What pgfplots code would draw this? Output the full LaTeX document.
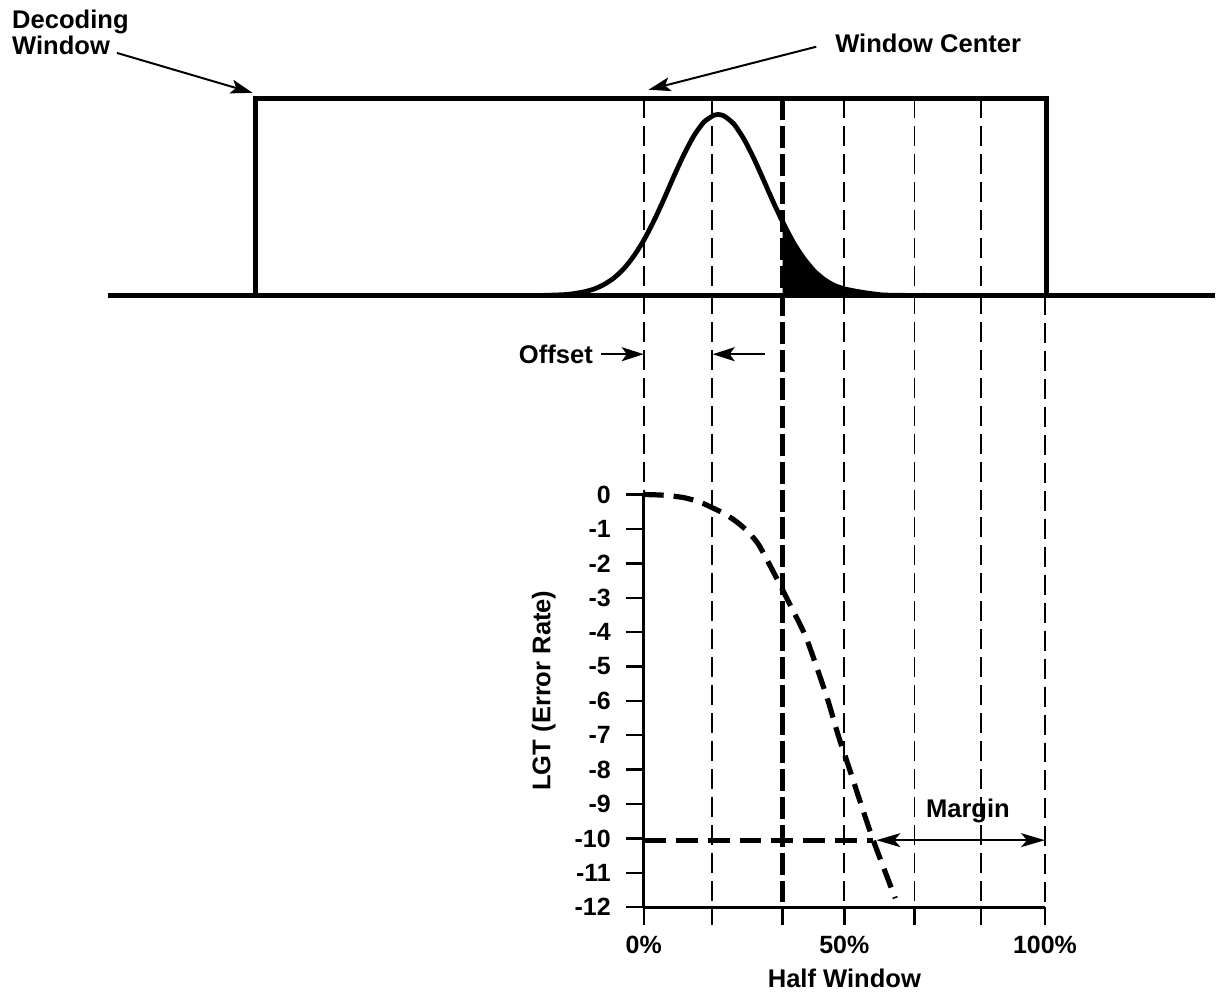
\documentclass[border=0pt]{standalone}
\usepackage{pgfplots}
\pgfplotsset{compat=1.18}
\usetikzlibrary{arrows.meta}
\usepackage{fontspec}
\setmainfont{Liberation Sans}
\newcommand\lab{\fontsize{12.8}{14}\selectfont\bfseries}
\begin{document}
\begin{tikzpicture}
\begin{axis}[
  x=2.01pt, y=17.23pt,
  xmin=0, xmax=100, ymin=-12, ymax=0,
  enlargelimits=false, clip=false,
  axis x line=bottom, axis y line=left,
  axis line style={line width=1.4pt, -},
  xtick={0,17,34.6,50,67.5,84,100},
  xticklabels={0\%,,,50\%,,,100\%},
  ytick={-12,-11,...,0},
  yticklabels={-12,-11,-10,-9,-8,-7,-6,-5,-4,-3,-2,-1,0},
  tick align=outside,
  major tick length=9pt,
  tick style={line width=1.2pt, black},
  ticklabel style={font=\fontsize{12.5}{14}\selectfont\bfseries},
  yticklabel style={xshift=-4pt},
  xticklabel style={yshift=-2pt},
  xlabel={Half Window}, ylabel={LGT (Error Rate)},
  label style={font=\lab},
  xlabel style={at={(axis description cs:0.5,-0.1717)}, anchor=center},
  ylabel style={at={(axis description cs:-0.249,0.525)}, anchor=center},
]
% bounding frame (invisible)
\path (axis cs:-160.45,14.379) rectangle (axis cs:142.29,-14.379);

% thin dashed vertical guides
\addplot[line width=0.9pt, dash pattern=on 10pt off 4pt] coordinates {(0,11.52) (0,0)};
\addplot[line width=0.9pt, dash pattern=on 10pt off 4pt] coordinates {(17,11.52) (17,-12)};
\addplot[line width=0.9pt, dash pattern=on 10pt off 4pt] coordinates {(50,11.52) (50,-12)};
\addplot[line width=0.9pt, dash pattern=on 10pt off 4pt] coordinates {(67.5,11.52) (67.5,-12)};
\addplot[line width=0.9pt, dash pattern=on 10pt off 4pt] coordinates {(84,11.52) (84,-12)};
\addplot[line width=0.9pt, dash pattern=on 10pt off 4pt] coordinates {(100,5.79) (100,-12)};

% shaded tail of the pulse
\addplot[fill=black, draw=none] coordinates {(34.6,5.79) (34.6,7.93) (35,7.84) (37.5,7.29) (40,6.85) (42.5,6.50) (45,6.25) (47.5,6.08) (50,5.98) (52.5,5.92) (55,5.87) (57.5,5.83) (60,5.80) (62,5.79)} -- cycle;

% baseline and decoding window
\addplot[line width=2.4pt] coordinates {(-133.6,5.79) (142.29,5.79)};
\addplot[line width=2.4pt, line join=miter] coordinates {(-96.8,5.79) (-96.8,11.52) (100.3,11.52) (100.3,5.79)};

% pulse
\addplot[line width=2.4pt, smooth, tension=0.4] coordinates {
(-25,5.79) (-20,5.81) (-17.5,5.84) (-15,5.89) (-12.5,5.97) (-10,6.10) (-7.5,6.29) (-5,6.56) (-2.5,6.93) (0,7.39)
(2.5,7.95) (5,8.58) (7.5,9.25) (10,9.88) (12.5,10.43) (15,10.83) (17.5,11.03) (18.5,11.05) (20,11.01)
(22.5,10.77) (25,10.33) (27.5,9.76) (30,9.11) (32.5,8.45) (35,7.84) (37.5,7.29) (40,6.85) (42.5,6.50)
(45,6.25) (47.5,6.08) (50,5.98) (52.5,5.92) (55,5.87) (57.5,5.83) (60,5.80) (65,5.79) (70,5.79)};

% thick dashed threshold line
\addplot[line width=2.5pt, dash pattern=on 11pt off 3pt] coordinates {(34.6,11.52) (34.6,-11.85)};

% error rate curve
\addplot[line width=2.6pt, dash pattern=on 10pt off 5pt, smooth, tension=0.4] coordinates {
(0,0) (5,-0.02) (10,-0.09) (14,-0.22) (17.2,-0.39) (20,-0.55) (23,-0.78) (26,-1.08) (28.6,-1.45)
(31.1,-1.98) (33.6,-2.54) (36.1,-3.12) (40.3,-4.11) (43.5,-5.15) (46,-6.02) (48.5,-7.01) (51,-7.88)
(54,-8.95) (57.2,-10.05) (62.7,-11.74)};

% -10 level line
\addplot[line width=2.6pt, dash pattern=on 11pt off 5pt] coordinates {(0,-10.05) (57.2,-10.05)};

% margin arrow
\draw[line width=0.9pt, {Stealth[length=12pt,width=7pt,inset=3pt]}-{Stealth[length=12pt,width=7pt,inset=3pt]}]
  (axis cs:58,-10.05) -- (axis cs:100,-10.05);
\node[font=\lab] at (axis cs:80.8,-9.21) {Margin};

% annotations
\node[font=\lab, anchor=base west, inner sep=0pt] at (axis cs:-157.5,13.54) {Decoding};
\node[font=\lab, anchor=base west, inner sep=0pt] at (axis cs:-157.5,12.78) {Window};
\draw[line width=1pt, -{Stealth[length=11pt,width=7pt,inset=2.5pt]}] (axis cs:-131.3,12.84) -- (axis cs:-97.5,11.68);
\node[font=\lab, anchor=base west] at (axis cs:46.0,12.84) {Window Center};
\draw[line width=1pt, -{Stealth[length=11pt,width=7pt,inset=2.5pt]}] (axis cs:43.0,13.02) -- (axis cs:1.2,11.77);

\node[font=\lab] at (axis cs:-21.9,4.08) {Offset};
\draw[line width=1pt, -{Stealth[length=11pt,width=7pt,inset=2.5pt]}] (axis cs:-10.7,4.08) -- (axis cs:0,4.08);
\draw[line width=1pt, -{Stealth[length=11pt,width=7pt,inset=2.5pt]}] (axis cs:30.3,4.08) -- (axis cs:17.2,4.08);
\end{axis}
\end{tikzpicture}
\end{document}
